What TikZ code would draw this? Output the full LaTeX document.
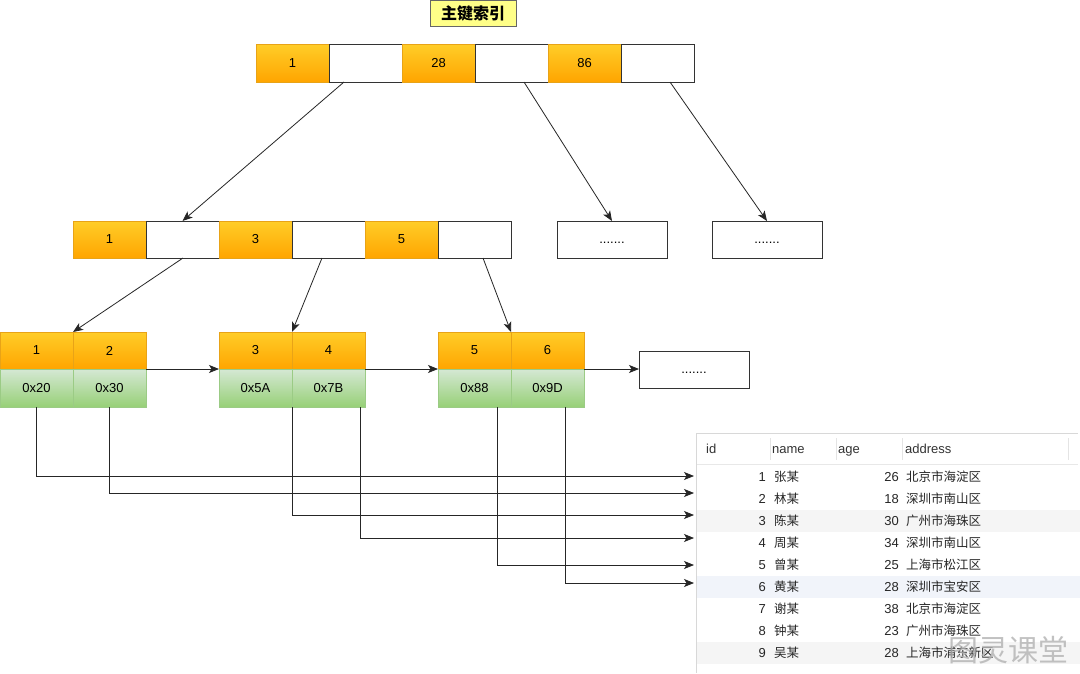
\documentclass[tikz,border=0pt]{standalone}
\usepackage{fontspec}
\setmainfont{Liberation Sans}
\newfontfamily\cjk{Noto Sans CJK SC}
\usetikzlibrary{arrows.meta,calc}
\definecolor{ortop}{HTML}{FFCD28}
\definecolor{orbot}{HTML}{FFA500}
\definecolor{orline}{HTML}{E8A317}
\definecolor{grtop}{HTML}{D5E8D4}
\definecolor{grbot}{HTML}{97D077}
\definecolor{grline}{HTML}{9BCB85}
\definecolor{titlefill}{HTML}{FFFF88}
\definecolor{rowgray}{HTML}{F5F5F5}
\definecolor{rowblue}{HTML}{F1F4FA}
\definecolor{tline}{HTML}{D8D8D8}
\tikzset{
  cellbase/.style={minimum width=73pt, minimum height=37.5pt, inner sep=0pt, outer sep=0pt, anchor=north west, font=\fontsize{13}{15}\selectfont},
  ocell/.style={cellbase, top color=ortop, bottom color=orbot, draw=orline, line width=0.5pt},
  gcell/.style={cellbase, top color=grtop, bottom color=grbot, draw=grline, line width=0.5pt},
  wcell/.style={cellbase, fill=white, draw=black!80, line width=0.8pt},
  dotbox/.style={minimum width=110pt, minimum height=37pt, inner sep=0pt, outer sep=0pt, anchor=north west, fill=white, draw=black!80, line width=0.8pt, font=\fontsize{13}{15}\selectfont, text height=7pt, text depth=0pt},
  arr/.style={draw=black!85, line width=0.8pt, -{Stealth[length=10pt,width=8pt,inset=2.5pt]}},
  tnum/.style={anchor=base east, inner sep=0pt, font=\fontsize{13}{15}\selectfont, text=black!85},
  ttext/.style={anchor=base west, inner sep=0pt, font=\cjk\fontsize{12.5}{14}\selectfont, text=black!85},
  thead/.style={anchor=base west, inner sep=0pt, font=\fontsize{13}{15}\selectfont, text=black!80},
}
\begin{document}
\begin{tikzpicture}[x=1pt,y=-1pt]
\useasboundingbox (0,0) rectangle (1080,673);
\fill[white] (0,0) rectangle (1080,673);

% title
\node[draw=black!60, fill=titlefill, minimum width=86pt, minimum height=26pt, inner sep=0pt, anchor=north west, font=\cjk\bfseries\fontsize{16}{18}\selectfont] (title) at (430,0) {主键索引};

% root row
\node[ocell, minimum height=38pt] (r1) at (256,44) {1};
\node[wcell, minimum height=38pt] (r2) at (329,44) {};
\node[ocell, minimum height=38pt] (r3) at (402,44) {28};
\node[wcell, minimum height=38pt] (r4) at (475,44) {};
\node[ocell, minimum height=38pt] (r5) at (548,44) {86};
\node[wcell, minimum height=38pt] (r6) at (621,44) {};

% middle row
\node[ocell, minimum height=37pt] (m1) at (73,221) {1};
\node[wcell, minimum height=37pt] (m2) at (146,221) {};
\node[ocell, minimum height=37pt] (m3) at (219,221) {3};
\node[wcell, minimum height=37pt] (m4) at (292,221) {};
\node[ocell, minimum height=37pt] (m5) at (365,221) {5};
\node[wcell, minimum height=37pt] (m6) at (438,221) {};
\node[dotbox] (d1) at (557,221) {.......};
\node[dotbox] (d2) at (712,221) {.......};

% leaf row
\node[ocell, minimum height=37pt] (l1) at (0,332) {1};
\node[ocell, minimum height=37pt] (l2) at (73,332) {2};
\node[gcell, minimum height=38pt] (g1) at (0,369) {0x20};
\node[gcell, minimum height=38pt] (g2) at (73,369) {0x30};
\node[ocell, minimum height=37pt] (l3) at (219,332) {3};
\node[ocell, minimum height=37pt] (l4) at (292,332) {4};
\node[gcell, minimum height=38pt] (g3) at (219,369) {0x5A};
\node[gcell, minimum height=38pt] (g4) at (292,369) {0x7B};
\node[ocell, minimum height=37pt] (l5) at (438,332) {5};
\node[ocell, minimum height=37pt] (l6) at (511,332) {6};
\node[gcell, minimum height=38pt] (g5) at (438,369) {0x88};
\node[gcell, minimum height=38pt] (g6) at (511,369) {0x9D};
\node[dotbox] (d3) at (639,351) {.......};

% tree arrows
\draw[arr] ($(r2.south west)+(15,0)$) -- (m2.north);
\draw[arr] ($(r4.south west)+(49,0)$) -- (d1.north);
\draw[arr] ($(r6.south west)+(49,0)$) -- (d2.north);
\draw[arr] ($(m2.south west)+(37,0)$) -- (l1.north east);
\draw[arr] ($(m4.south west)+(30,0)$) -- (l3.north east);
\draw[arr] ($(m6.south west)+(45,0)$) -- (l5.north east);

% leaf links
\draw[arr] (l2.south east) -- (l3.south west);
\draw[arr] (l4.south east) -- (l5.south west);
\draw[arr] (l6.south east) -- (l6.south east -| d3.west);

% table
\fill[rowgray] (697,510) rectangle (1080,532);
\fill[rowblue] (697,576) rectangle (1080,598);
\fill[rowgray] (697,642) rectangle (1080,664);
\draw[tline, line width=0.8pt] (696,433) -- (1078,433);
\draw[tline, line width=0.8pt] (696,433) -- (696,673);
\draw[tline!60, line width=0.6pt] (697,464.5) -- (1078,464.5);
\foreach \xx in {770,836,902,1068} \draw[tline!70, line width=0.6pt] (\xx,438) -- (\xx,460);
\node[thead] (hid) at (706,453.5) {id};
\node[thead] (hname) at (772,453.5) {name};
\node[thead] (hage) at (838,453.5) {age};
\node[thead] (haddr) at (905,453.5) {address};

\foreach \i/\nm/\ag/\ad in {1/张某/26/北京市海淀区, 2/林某/18/深圳市南山区, 3/陈某/30/广州市海珠区, 4/周某/34/深圳市南山区, 5/曾某/25/上海市松江区, 6/黄某/28/深圳市宝安区, 7/谢某/38/北京市海淀区, 8/钟某/23/广州市海珠区, 9/吴某/28/上海市浦东新区}{
  \node[tnum] (id\i) at (766,{481.5+22*(\i-1)}) {\i};
  \node[ttext] (nm\i) at (774,{481.5+22*(\i-1)}) {\nm};
  \node[tnum] (ag\i) at (899,{481.5+22*(\i-1)}) {\ag};
  \node[ttext] (ad\i) at (906,{481.5+22*(\i-1)}) {\ad};
}

% pointer targets
\coordinate (t1) at (694,476);
\coordinate (t2) at (694,493);
\coordinate (t3) at (694,515);
\coordinate (t4) at (694,538);
\coordinate (t5) at (694,565);
\coordinate (t6) at (694,583);
\draw[arr] (g1.south) |- (t1);
\draw[arr] (g2.south) |- (t2);
\draw[arr] (g3.south east) |- (t3);
\draw[arr] ($(g4.south east)+(-5,0)$) |- (t4);
\draw[arr] ($(g5.south east)+(-14,0)$) |- (t5);
\draw[arr] ($(g6.south)+(18,0)$) |- (t6);

% watermark
\node[anchor=west, inner sep=0pt, font=\cjk\fontsize{30}{32}\selectfont, text=black!30, opacity=0.8] (wm) at (948,650) {图灵课堂};
\end{tikzpicture}
\end{document}
